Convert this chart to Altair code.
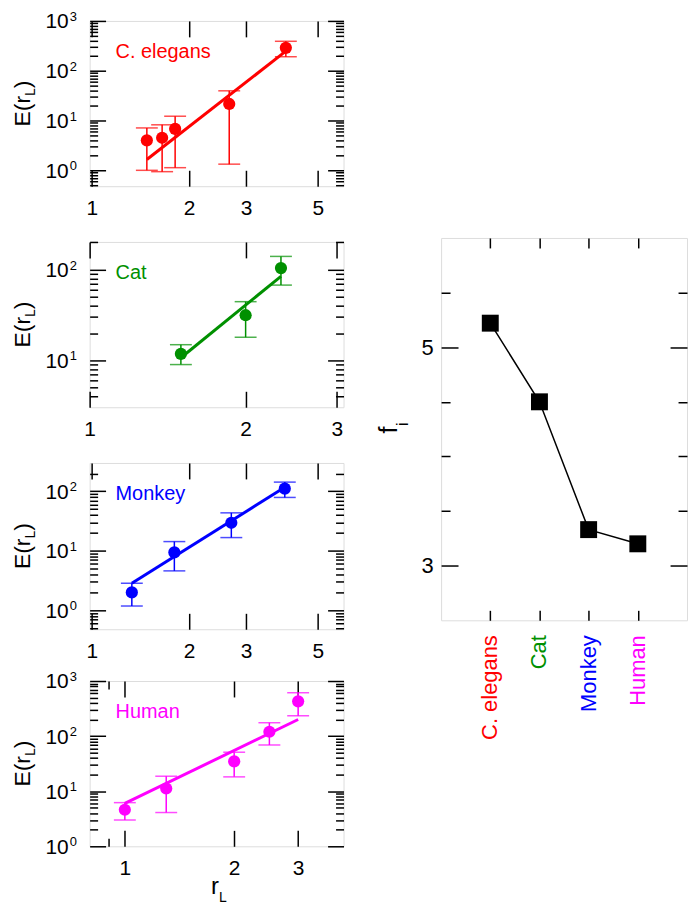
import altair as alt
import pandas as pd

FONT = "Liberation Sans"

# ---------------- data ----------------
# C. elegans
ce_x = [1.48, 1.65, 1.81, 2.66, 3.98]
ce_y = [4.0, 4.5, 6.8, 21.5, 288]
ce_lo = [1.0, 0.94, 1.13, 1.33, 191]
ce_hi = [7.1, 8.2, 12.2, 39.5, 390]
ce_fit_x = [1.48, 3.98]
ce_fit_y = [1.65, 247]

# Cat
cat_x = [1.5, 2.0, 2.34]
cat_y = [11.8, 31.5, 104]
cat_lo = [9.0, 18.0, 67.6]
cat_hi = [14.9, 44.4, 140]
cat_fit_x = [1.5, 2.34]
cat_fit_y = [10.7, 84.5]

# Monkey
mk_x = [1.33, 1.80, 2.70, 3.95]
mk_y = [2.0, 9.4, 29.6, 111]
mk_lo = [1.18, 4.6, 16.7, 79]
mk_hi = [2.85, 14.3, 43.5, 143]
mk_fit_x = [1.33, 3.95]
mk_fit_y = [2.85, 117]

# Human
hu_x = [1.0, 1.3, 2.0, 2.5, 3.0]
hu_y = [4.6, 11.2, 34.8, 120, 428]
hu_lo = [3.0, 4.1, 18.2, 69, 234]
hu_hi = [6.2, 18.7, 51, 175, 613]
hu_fit_x = [1.0, 3.0]
hu_fit_y = [6.0, 200]

# right panel
species = ["C. elegans", "Cat", "Monkey", "Human"]
species_pos = [1, 2, 3, 4]
f_vals = [5.22, 4.50, 3.33, 3.20]
species_colors = ["#FF0000", "#009000", "#0000FF", "#FF00FF"]

W = 255


def ax(orient, values, size, labels=False, **kw):
    return alt.Axis(orient=orient, values=values, tickSize=size, offset=-size,
                    domain=False, grid=False, labels=labels, title=None,
                    ticks=True, tickColor="black", tickWidth=1.5, **kw)


def log_panel(name, color, xs, ys, lo, hi, fx, fy, xdom, ydom, xmajor,
              xminor, ydecs, H, xtitle=False):
    pts = pd.DataFrame({"x": xs, "y": ys, "lo": lo, "hi": hi})
    caps = pd.DataFrame({"x": xs + xs, "y": lo + hi})
    fit = pd.DataFrame({"x": fx, "y": fy})
    ymajor = [10.0 ** d for d in ydecs]
    yminor = [k * 10.0 ** d for d in range(min(ydecs) - 1, max(ydecs) + 1)
              for k in range(2, 10) if ydom[0] < k * 10.0 ** d < ydom[1]]
    xsc = alt.Scale(type="log", domain=xdom, nice=False)
    ysc = alt.Scale(type="log", domain=ydom, nice=False)

    xlab_axis = ax("bottom", xmajor, 16, labels=True, labelFont=FONT,
                   labelFontSize=21, labelColor="black", labelPadding=11,
                   labelFlush=False, labelOverlap=False,
                   labelExpr="format(datum.value, '~g')")

    err = alt.Chart(pts).mark_rule(color=color, strokeWidth=1.5).encode(
        x=alt.X("x:Q", scale=xsc, axis=xlab_axis),
        y=alt.Y("lo:Q", scale=ysc, axis=ax("left", ymajor, 16)),
        y2="hi:Q")
    cap = alt.Chart(caps).mark_tick(color=color, orient="horizontal", size=22,
                                    thickness=1.5).encode(
        x=alt.X("x:Q", scale=xsc, axis=ax("top", xmajor, 16)),
        y=alt.Y("y:Q", scale=ysc, axis=ax("left", yminor, 8)))
    line = alt.Chart(fit).mark_line(color=color, strokeWidth=3).encode(
        x=alt.X("x:Q", scale=xsc,
                axis=ax("bottom", xminor, 8) if xminor else None),
        y=alt.Y("y:Q", scale=ysc, axis=ax("right", ymajor, 16)))
    dots = alt.Chart(pts).mark_circle(color=color, size=150, opacity=1).encode(
        x=alt.X("x:Q", scale=xsc,
                axis=ax("top", xminor, 8) if xminor else None),
        y=alt.Y("y:Q", scale=ysc, axis=ax("right", yminor, 8)))

    ylab = pd.DataFrame({"v": ymajor, "e": [str(d) for d in ydecs]})
    ten = alt.Chart(ylab).mark_text(text="10", align="right", baseline="middle",
                                    dy=1.5, fontSize=21, font=FONT,
                                    color="black").encode(
        x=alt.value(-21), y=alt.Y("v:Q", scale=ysc, axis=None))
    sup = alt.Chart(ylab).mark_text(align="left", baseline="middle", dy=-4,
                                    fontSize=13, font=FONT,
                                    color="black").encode(
        x=alt.value(-20), y=alt.Y("v:Q", scale=ysc, axis=None), text="e:N")

    one = pd.DataFrame({"t": [name]})
    lab = alt.Chart(one).mark_text(align="left", baseline="middle", fontSize=20,
                                   font=FONT, color=color).encode(
        x=alt.value(26), y=alt.value(31), text="t:N")

    yc = H / 2
    t1 = alt.Chart(one).mark_text(text="E(r", angle=270, align="left",
                                  baseline="alphabetic", fontSize=23,
                                  font=FONT, color="black").encode(
        x=alt.value(-59.5), y=alt.value(yc + 23))
    t2 = alt.Chart(one).mark_text(text="L", angle=270, align="left",
                                  baseline="alphabetic", fontSize=14,
                                  font=FONT, color="black").encode(
        x=alt.value(-55), y=alt.value(yc + 23 - 30.7))
    t3 = alt.Chart(one).mark_text(text=")", angle=270, align="left",
                                  baseline="alphabetic", fontSize=23,
                                  font=FONT, color="black").encode(
        x=alt.value(-59.5), y=alt.value(yc + 23 - 30.7 - 7.8))
    # invisible guide keeping the whole title box inside the page
    lpad = alt.Chart(one).mark_rule(strokeOpacity=0).encode(
        x=alt.value(-81), y=alt.value(yc), y2=alt.value(yc + 1))
    layers = [err, cap, line, dots, ten, sup, lab, t1, t2, t3, lpad]
    if xtitle:
        r1 = alt.Chart(one).mark_text(text="r", align="left",
                                      baseline="alphabetic", fontSize=24,
                                      font=FONT, color="black").encode(
            x=alt.value(122), y=alt.value(H + 48))
        r2 = alt.Chart(one).mark_text(text="L", align="left",
                                      baseline="alphabetic", fontSize=14,
                                      font=FONT, color="black").encode(
            x=alt.value(130), y=alt.value(H + 56))
        layers += [r1, r2]
    return alt.layer(*layers).resolve_axis(
        x="independent", y="independent").properties(width=W, height=H)


p1 = log_panel("C. elegans", species_colors[0], ce_x, ce_y, ce_lo, ce_hi,
               ce_fit_x, ce_fit_y, [0.985, 6], [0.48, 1000], [1, 2, 3, 5], [],
               [0, 1, 2, 3], 166)
p2 = log_panel("Cat", species_colors[1], cat_x, cat_y, cat_lo, cat_hi,
               cat_fit_x, cat_fit_y, [1, 3.09], [3.05, 202], [1, 2, 3], [],
               [1, 2], 166)
p3 = log_panel("Monkey", species_colors[2], mk_x, mk_y, mk_lo, mk_hi,
               mk_fit_x, mk_fit_y, [0.985, 6], [0.48, 300], [1, 2, 3, 5], [],
               [0, 1, 2], 167)
p4 = log_panel("Human", species_colors[3], hu_x, hu_y, hu_lo, hu_hi,
               hu_fit_x, hu_fit_y, [0.8, 4], [1, 1000], [1, 2, 3], [0.9],
               [0, 1, 2, 3], 166, xtitle=True)

# ---------------- right panel ----------------
RW, RH = 247, 384
rdf = pd.DataFrame({"pos": species_pos, "f": f_vals, "name": species})
rx = alt.Scale(domain=[0, 5], nice=False, zero=False)
ry = alt.Scale(domain=[2.5, 6], nice=False, zero=False)
ymaj = [3, 5]
ymin = [3.5, 4, 4.5, 5.5]

rline = alt.Chart(rdf).mark_line(color="black", strokeWidth=1.5).encode(
    x=alt.X("pos:Q", scale=rx, axis=ax("bottom", species_pos, 10)),
    y=alt.Y("f:Q", scale=ry,
            axis=ax("left", ymaj, 17, labels=True, labelFont=FONT,
                    labelFontSize=22, labelColor="black", labelPadding=8,
                    labelFlush=False)))
rsq = alt.Chart(rdf).mark_square(color="black", size=289, opacity=1).encode(
    x=alt.X("pos:Q", scale=rx, axis=ax("top", species_pos, 10)),
    y=alt.Y("f:Q", scale=ry, axis=ax("left", ymin, 9)))
rghost1 = alt.Chart(rdf).mark_point(opacity=0).encode(
    x=alt.X("pos:Q", scale=rx, axis=None),
    y=alt.Y("f:Q", scale=ry, axis=ax("right", ymaj, 17)))
rghost2 = alt.Chart(rdf).mark_point(opacity=0).encode(
    x=alt.X("pos:Q", scale=rx, axis=None),
    y=alt.Y("f:Q", scale=ry, axis=ax("right", ymin, 9)))
rlabels = alt.Chart(rdf).mark_text(angle=270, align="right", baseline="middle",
                                   fontSize=22, font=FONT).encode(
    x=alt.X("pos:Q", scale=rx, axis=None),
    y=alt.value(RH + 15),
    text="name:N",
    color=alt.Color("name:N", scale=alt.Scale(domain=species,
                                              range=species_colors),
                    legend=None))
one = pd.DataFrame({"t": ["f"]})
f1 = alt.Chart(one).mark_text(text="f", angle=270, align="center",
                              baseline="alphabetic", fontSize=25, font=FONT,
                              color="black").encode(
    x=alt.value(-44), y=alt.value(RH / 2 + 1))
f2 = alt.Chart(one).mark_text(text="i", angle=270, align="center",
                              baseline="alphabetic", fontSize=16, font=FONT,
                              color="black").encode(
    x=alt.value(-33), y=alt.value(RH / 2 - 5))
# invisible guide that reserves room to the left of the right panel
rpad = alt.Chart(one).mark_rule(strokeOpacity=0).encode(
    x=alt.value(-64), y=alt.value(100), y2=alt.value(101))

right = alt.layer(rline, rsq, rghost1, rghost2, rlabels, f1, f2,
                  rpad).resolve_axis(
    x="independent", y="independent").properties(width=RW, height=RH)

spacer = alt.Chart(one).mark_rule(strokeOpacity=0).encode(
    x=alt.value(0), y=alt.value(0), y2=alt.value(1)).properties(
    width=RW, height=196, view=alt.ViewBackground(strokeOpacity=0))

right_col = alt.vconcat(spacer, right, spacing=20)
left = alt.vconcat(alt.vconcat(p1, p2, p3, spacing=21), p4, spacing=8)

chart = alt.hconcat(left, right_col, spacing=31, padding=0).configure_view(
    stroke="black", strokeWidth=2).configure(font=FONT)

chart.save("out.html", embed_options={"renderer": "svg", "actions": False})
